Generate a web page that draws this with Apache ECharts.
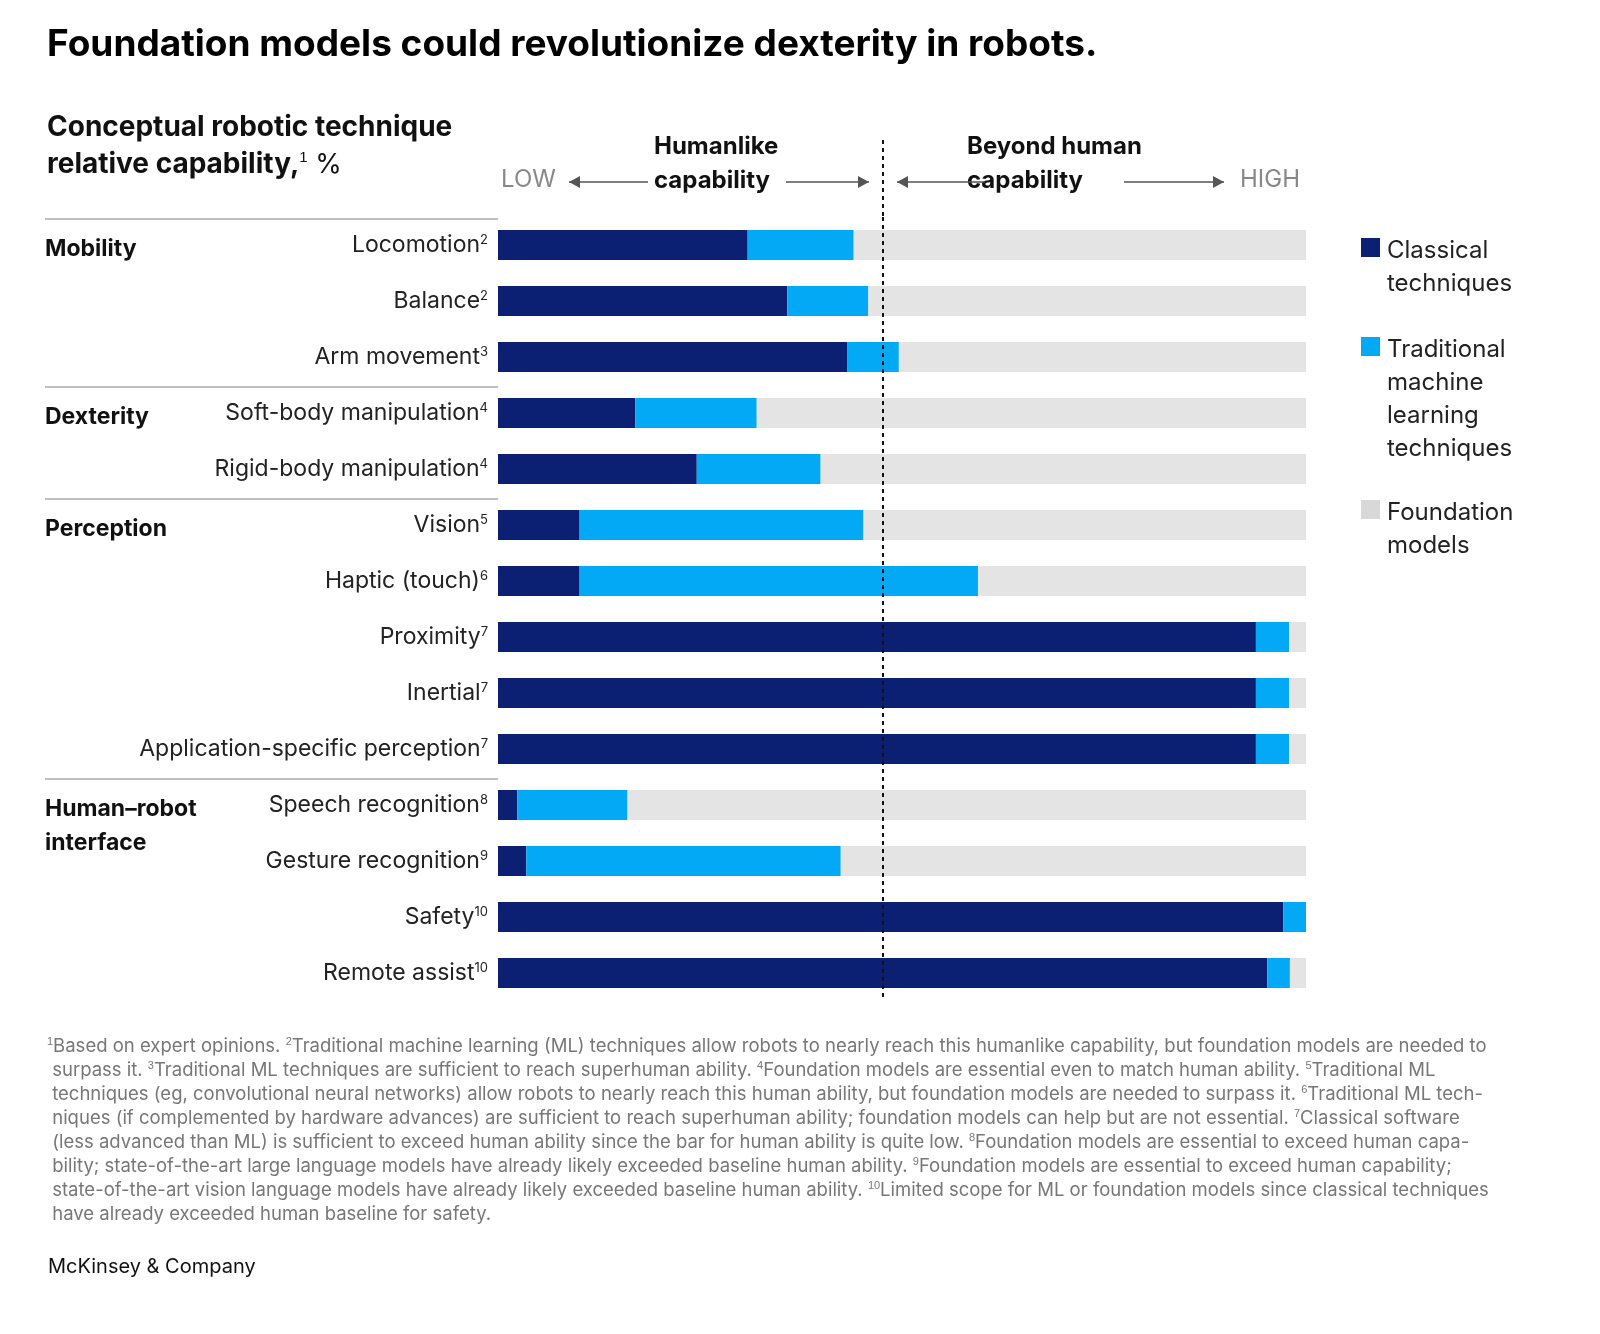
<!DOCTYPE html>
<html><head><meta charset="utf-8">
<script src="https://cdn.jsdelivr.net/npm/echarts@6/dist/echarts.min.js"></script>
<style>html,body{margin:0;background:#fff}#c{width:1600px;height:1334px}</style>
</head><body><div id="c"></div>
<script>
const categories=['Locomotion','Balance','Arm movement','Soft-body manipulation','Rigid-body manipulation','Vision','Haptic (touch)','Proximity','Inertial','Application-specific perception','Speech recognition','Gesture recognition','Safety','Remote assist'];
const notes=['2','2','3','4','4','5','6','7','7','7','8','9','10','10'];
const classical=[30.9,35.8,43.2,17.0,24.6,10.1,10.1,93.8,93.8,93.8,2.4,3.5,97.2,95.2];
const traditionalML=[13.1,10.0,6.4,15.0,15.3,35.1,49.3,4.1,4.1,4.1,13.6,38.9,2.8,2.8];
const foundation=classical.map((c,i)=>+(100-c-traditionalML[i]).toFixed(1));
const humanLevel=47.6;
const F='Inter, "Noto Sans", sans-serif';
const chart=echarts.init(document.getElementById('c'));
const sup={fontSize:13,padding:[0,0,10,0],color:'#222',fontFamily:F};
const fn=[
 ['{s|1}Based on expert opinions. {s|2}Traditional machine learning (ML) techniques allow robots to nearly reach this humanlike capability, but foundation models are needed to',
 ' surpass it. {s|3}Traditional ML techniques are sufficient to reach superhuman ability. {s|4}Foundation models are essential even to match human ability. {s|5}Traditional ML',
 ' techniques (eg, convolutional neural networks) allow robots to nearly reach this human ability, but foundation models are needed to surpass it. {s|6}Traditional ML tech-',
 ' niques (if complemented by hardware advances) are sufficient to reach superhuman ability; foundation models can help but are not essential. {s|7}Classical software',
 ' (less advanced than ML) is sufficient to exceed human ability since the bar for human ability is quite low. {s|8}Foundation models are essential to exceed human capa-',
 ' bility; state-of-the-art large language models have already likely exceeded baseline human ability. {s|9}Foundation models are essential to exceed human capability;',
 ' state-of-the-art vision language models have already likely exceeded baseline human ability. {s|10}Limited scope for ML or foundation models since classical techniques',
 ' have already exceeded human baseline for safety.']
][0];
const g=[];
g.push({type:'text',left:47,top:26,style:{text:'Foundation models could revolutionize dexterity in robots.',font:'bold 37px '+F,fill:'#000'}});
g.push({type:'text',left:47,top:114,style:{text:'{a|Conceptual robotic technique}\n{a|relative capability,}{s|1}{b| %}',rich:{a:{font:'bold 28px '+F,fill:'#111',lineHeight:37},s:{fontSize:15,padding:[0,0,14,0],fill:'#111'},b:{fontSize:27,fill:'#111',fontFamily:F}}}});
// header
g.push({type:'text',left:654,top:130,style:{text:'Humanlike\ncapability',font:'bold 24px '+F,fill:'#111',align:'center',lineHeight:34},x:64});
g.push({type:'text',left:967,top:130,style:{text:'Beyond human\ncapability',font:'bold 24px '+F,fill:'#111',lineHeight:34}});
g.push({type:'text',left:501,top:168,style:{text:'LOW',font:'24px '+F,fill:'#888'}});
g.push({type:'text',left:1240,top:168,style:{text:'HIGH',font:'24px '+F,fill:'#888'}});
const arrow=(x1,x2)=>{g.push({type:'line',shape:{x1,y1:182,x2,y2:182},style:{stroke:'#555',lineWidth:1.5}});const d=x2>x1?-1:1;g.push({type:'polygon',shape:{points:[[x2,182],[x2+d*11,176],[x2+d*11,188]]},style:{fill:'#555'}});};
arrow(648,569);arrow(786,869);arrow(985,897);arrow(1124,1224);
g.push({type:'line',shape:{x1:883,y1:140,x2:883,y2:217},style:{stroke:'#111',lineWidth:2,lineDash:[4,4]}});
// group separators and labels
[[217,'Mobility'],[385,'Dexterity'],[497,'Perception'],[777,'Human\u2013robot\ninterface']].forEach(([y,t])=>{
 g.push({type:'line',shape:{x1:45,y1:y+2,x2:498,y2:y+2},style:{stroke:'#aaa',lineWidth:1.5}});
 g.push({type:'text',left:45,top:y+15,style:{text:t,font:'bold 23px '+F,fill:'#111',lineHeight:34}});
});
// legend
[[236,'#0b1f73','Classical\ntechniques'],[335,'#03a9f4','Traditional\nmachine\nlearning\ntechniques'],[498,'#d8d8d8','Foundation\nmodels']].forEach(([y,c,t])=>{
 g.push({type:'rect',shape:{x:1361,y:y+2,width:19,height:19},style:{fill:c}});
 g.push({type:'text',left:1387,top:y-2,style:{text:t,font:'24px '+F,fill:'#222',lineHeight:33}});
});
g.push({type:'text',left:47,top:1034,style:{text:fn.join('\n'),rich:{s:{fontSize:11,padding:[0,0,9,0],fill:'#777'}},font:'18.5px '+F,fill:'#777',lineHeight:24}});
g.push({type:'text',left:48,top:1257,style:{text:'McKinsey & Company',font:'20px '+F,fill:'#111'}});
const bar=(name,data,color,extra)=>Object.assign({name,type:'bar',stack:'s',data,barWidth:30,itemStyle:{color},silent:true},extra||{});
chart.setOption({
 animation:false,
 grid:{left:498,right:294,top:217,bottom:333},
 xAxis:{type:'value',min:0,max:100,show:false},
 yAxis:{type:'category',data:categories,inverse:true,axisLine:{show:false},axisTick:{show:false},
  axisLabel:{margin:10,fontFamily:F,fontSize:23,color:'#222',formatter:(v,i)=>v+'{s|'+notes[i]+'}',rich:{s:sup}}},
 series:[
  bar('Classical techniques',classical,'#0b1f73'),
  bar('Traditional machine learning techniques',traditionalML,'#03a9f4'),
  bar('Foundation models',foundation,'#e4e4e4',{z:1,markLine:{silent:true,symbol:'none',label:{show:false},lineStyle:{color:'#111',type:[4,4],width:2},data:[{xAxis:humanLevel}],z:10}})
 ],
 graphic:g
});
</script></body></html>
